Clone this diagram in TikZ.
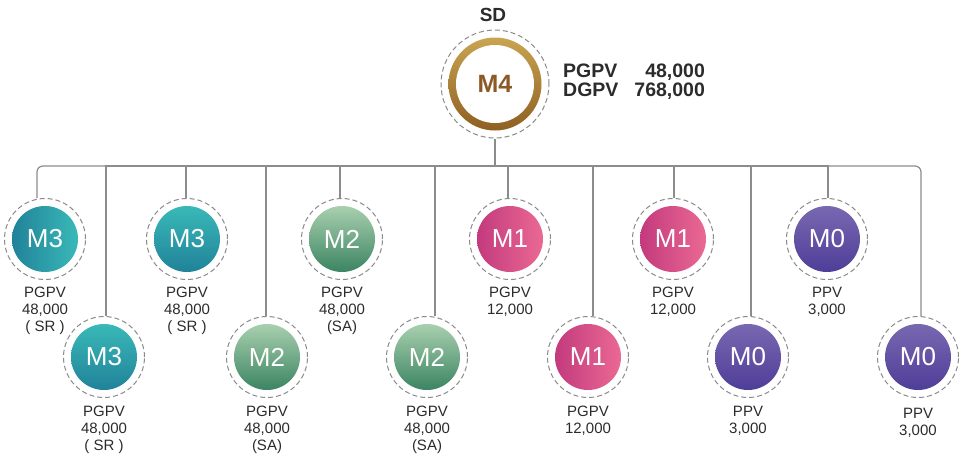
\documentclass[tikz,border=0pt]{standalone}
\usepackage{fontspec}
\setmainfont{Liberation Sans}
\usetikzlibrary{positioning}

\definecolor{linegray}{HTML}{8C8C8C}
\definecolor{dashgray}{HTML}{8A8A8A}
\definecolor{textgray}{HTML}{2B2B2B}
\definecolor{tealdark}{HTML}{1E7C96}
\definecolor{teallight}{HTML}{3CBFBB}
\definecolor{greendark}{HTML}{2F7C5A}
\definecolor{greenlight}{HTML}{B5D8B7}
\definecolor{pinkdark}{HTML}{BE357B}
\definecolor{pinklight}{HTML}{EF6E96}
\definecolor{violetdark}{HTML}{4A3995}
\definecolor{violetlight}{HTML}{7D6DB4}
\definecolor{golddark}{HTML}{8A5A1E}
\definecolor{goldlight}{HTML}{CDAA55}
\definecolor{goldtext}{HTML}{8B5A26}

\tikzset{
  member/.style={circle, draw=dashgray, line width=1pt, dash pattern=on 5pt off 3pt,
    minimum size=81pt, inner sep=0pt, text=white, font=\fontsize{26}{26}\selectfont},
  tealh/.style={member, path picture={\shade[left color=tealdark, right color=teallight]
    (path picture bounding box.center) circle (33pt);}},
  tealv/.style={member, path picture={\shade[top color=teallight, bottom color=tealdark]
    (path picture bounding box.center) circle (33pt);}},
  green/.style={member, path picture={\shade[top color=greenlight, bottom color=greendark]
    (path picture bounding box.center) circle (33pt);}},
  pink/.style={member, path picture={\shade[left color=pinkdark, right color=pinklight]
    (path picture bounding box.center) circle (33pt);}},
  violet/.style={member, path picture={\shade[top color=violetlight, bottom color=violetdark]
    (path picture bounding box.center) circle (33pt);}},
  stat/.style={align=center, inner sep=0pt, text=textgray, font=\fontsize{15}{16.8}\selectfont},
  link/.style={draw=linegray, line width=1.2pt}
}

\begin{document}
\begin{tikzpicture}[x=1pt,y=-1pt]
\useasboundingbox (0,0) rectangle (962,458);

%top member
\node[circle, draw=dashgray, line width=1pt, dash pattern=on 5pt off 3pt, minimum size=108pt,
  inner sep=0pt, text=goldtext, font=\bfseries\fontsize{25}{25}\selectfont,
  path picture={
    \shade[top color=goldlight, bottom color=golddark] (path picture bounding box.center) circle (46.5pt);
    \fill[white] (path picture bounding box.center) circle (39pt);}] (m4) at (495,84) {M4};
\node[text=textgray, font=\bfseries\fontsize{19}{19}\selectfont] (sd) at (493,15) {SD};
\node[anchor=west, inner sep=0pt, text=textgray, font=\bfseries\fontsize{19.5}{18}\selectfont] (m4-t) at (563,83)
  {\begin{tabular}{@{}l@{\hspace{16pt}}r@{}}PGPV & 48,000\\ DGPV & 768,000\end{tabular}};

%first row
\node[tealh] (m3a) at (45,239) {M3};
\node[tealv] (m3b) at (187,239) {M3};
\node[green] (m2a) at (342,239) {M2};
\node[pink] (m1a) at (510,239) {M1};
\node[pink] (m1b) at (673,239) {M1};
\node[violet] (m0a) at (827,239) {M0};

%second row
\node[tealv] (m3c) at (104,357) {M3};
\node[green] (m2b) at (267,357) {M2};
\node[green] (m2c) at (427,357) {M2};
\node[pink] (m1c) at (588,357) {M1};
\node[violet] (m0b) at (748,357) {M0};
\node[violet] (m0c) at (918,357) {M0};

%labels
\node[stat, below=7pt of m3a] (m3a-t) {PGPV\\48,000\\( SR )};
\node[stat, below=7pt of m3b] (m3b-t) {PGPV\\48,000\\( SR )};
\node[stat, below=7pt of m2a] (m2a-t) {PGPV\\48,000\\(SA)};
\node[stat, below=7pt of m1a] (m1a-t) {PGPV\\12,000};
\node[stat, below=7pt of m1b] (m1b-t) {PGPV\\12,000};
\node[stat, below=7pt of m0a] (m0a-t) {PPV\\3,000};
\node[stat, below=8pt of m3c] (m3c-t) {PGPV\\48,000\\( SR )};
\node[stat, below=8pt of m2b] (m2b-t) {PGPV\\48,000\\(SA)};
\node[stat, below=8pt of m2c] (m2c-t) {PGPV\\48,000\\(SA)};
\node[stat, below=8pt of m1c] (m1c-t) {PGPV\\12,000};
\node[stat, below=8pt of m0b] (m0b-t) {PPV\\3,000};
\node[stat, below=10pt of m0c] (m0c-t) {PPV\\3,000};

%lines
\coordinate (bus) at (495,166);
\draw[link] (m4) -- (bus);
\draw[link, rounded corners=6pt] (bus) -| ([xshift=-8pt]m3a.north);
\draw[link, rounded corners=6pt] (bus) -| ([xshift=3pt]m0c.north);
\foreach \n/\s in {m3b/-1, m2a/-2, m1a/-2, m1b/1, m0a/1, m3c/2, m2b/-1, m2c/8, m1c/5, m0b/3}
  \draw[link] (bus) -| ([xshift=\s pt]\n.north);
\end{tikzpicture}
\end{document}
